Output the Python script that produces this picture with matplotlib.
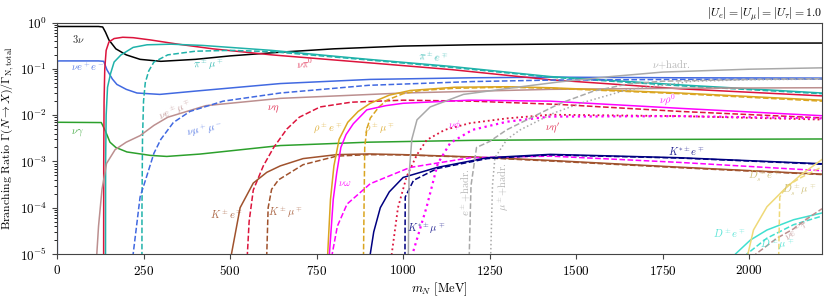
import numpy as np
import matplotlib
matplotlib.use("Agg")
from matplotlib import pyplot as plt

# Branching ratios of a heavy neutral lepton N
# (m_N in MeV, BR dimensionless)

m_3nu = [0, 1, 5, 120, 132, 140, 150, 170, 200, 240, 300, 400, 500, 650, 800, 1000, 1200, 1500, 1800, 2210]
br_3nu = [1.0, 0.85, 0.82, 0.82, 0.80, 0.62, 0.42, 0.27, 0.2, 0.16, 0.145, 0.16, 0.19, 0.23, 0.27, 0.31, 0.33, 0.345, 0.355, 0.36]

m_nuee = [1.0, 1.05, 1.2, 5, 120, 135, 144, 160, 173, 200, 231, 297, 400, 645, 905, 1200, 1425, 1800, 2210]
br_nuee = [1e-6, 0.05, 0.145, 0.148, 0.148, 0.145, 0.096, 0.06, 0.046, 0.036, 0.030, 0.028, 0.033, 0.048, 0.059, 0.064, 0.066, 0.064, 0.063]

m_nugamma = [0, 128, 140, 153, 170, 202, 269, 317, 413, 645, 900, 1200, 1500, 2210]
br_nugamma = [7e-3, 6.9e-3, 4.5e-3, 2.6e-3, 2.0e-3, 1.6e-3, 1.35e-3, 1.28e-3, 1.44e-3, 2.2e-3, 2.6e-3, 2.85e-3, 2.95e-3, 3.05e-3]

m_nupi0 = [134.5, 135, 136, 138, 142, 150, 165, 190, 220, 270, 350, 450, 620, 900, 1140, 1425, 1800, 2210]
br_nupi0 = [1e-7, 1e-3, 0.02, 0.1, 0.25, 0.38, 0.45, 0.48, 0.47, 0.42, 0.34, 0.27, 0.20, 0.135, 0.096, 0.058, 0.037, 0.026]

m_pie = [139.8, 140.5, 142, 146, 155, 165, 185, 220, 260, 330, 420, 620, 900, 1136, 1425, 1800, 2210]
br_pie = [1e-7, 1e-3, 0.01, 0.04, 0.08, 0.14, 0.2, 0.29, 0.33, 0.34, 0.32, 0.25, 0.16, 0.113, 0.068, 0.045, 0.030]

m_pimu = [245.2, 245.5, 247, 250, 255, 265, 280, 320, 400, 500, 620, 900, 1136, 1425, 1800, 2210]
br_pimu = [1e-7, 1e-4, 3e-3, 0.02, 0.05, 0.09, 0.14, 0.2, 0.24, 0.25, 0.235, 0.155, 0.108, 0.066, 0.043, 0.029]

m_nuemu = [110, 115, 120, 130, 143, 168, 200, 240, 280, 320, 430, 645, 1000, 1425, 1800, 2210]
br_nuemu = [1e-7, 1e-5, 4e-5, 2.5e-4, 9e-4, 1.8e-3, 2.6e-3, 3.6e-3, 6e-3, 9e-3, 0.016, 0.023, 0.030, 0.036, 0.038, 0.039]

m_numumu = [211.5, 215, 220, 240, 260, 280, 300, 336, 384, 480, 645, 900, 1200, 1425, 1800, 2210]
br_numumu = [1e-8, 1e-6, 1e-5, 1.7e-4, 5e-4, 1.5e-3, 3e-3, 6.9e-3, 0.012, 0.020, 0.030, 0.044, 0.053, 0.057, 0.059, 0.060]

m_nueta = [548, 550, 555, 567, 596, 626, 664, 700, 760, 850, 1000, 1200, 1450, 1800, 2210]
br_nueta = [1e-7, 1e-5, 5e-5, 2.4e-4, 8e-4, 2e-3, 5e-3, 9e-3, 0.015, 0.019, 0.021, 0.020, 0.017, 0.012, 8.7e-3]

m_ke = [494.5, 500, 504, 529, 567, 606, 645, 711, 808, 900, 1000, 1200, 1425, 1800, 2210]
br_ke = [1e-7, 2e-6, 1e-5, 1e-4, 3.4e-4, 5.8e-4, 8e-4, 1.15e-3, 1.4e-3, 1.45e-3, 1.4e-3, 1.25e-3, 1.05e-3, 7.5e-4, 5.3e-4]

m_kmu = [599.5, 603, 606, 610, 620, 640, 711, 808, 900, 1000, 1200, 1425, 1800, 2210]
br_kmu = [1e-7, 3e-6, 1e-5, 1e-4, 2.5e-4, 4e-4, 8.5e-4, 1.3e-3, 1.4e-3, 1.38e-3, 1.23e-3, 1.02e-3, 7.3e-4, 5.2e-4]

m_rhoe = [776, 779, 782, 790, 800, 815, 840, 870, 905, 960, 1020, 1150, 1300, 1425, 1800, 2210]
br_rhoe = [1e-7, 2e-6, 1e-5, 1.5e-4, 8e-4, 3e-3, 7e-3, 0.012, 0.018, 0.027, 0.034, 0.040, 0.041, 0.039, 0.030, 0.021]

m_rhomu = [881.5, 884, 887, 889, 895, 905, 930, 953, 1000, 1050, 1150, 1300, 1425, 1800, 2210]
br_rhomu = [1e-7, 1e-6, 1e-4, 2e-3, 5e-3, 8.6e-3, 0.015, 0.021, 0.029, 0.034, 0.038, 0.040, 0.038, 0.029, 0.020]

m_nurho = [783, 787, 798, 808, 820, 835, 856, 895, 950, 1000, 1190, 1425, 1800, 2210]
br_nurho = [1e-7, 1e-5, 1.5e-4, 5.6e-4, 2e-3, 3.8e-3, 6.5e-3, 0.013, 0.016, 0.018, 0.021, 0.020, 0.014, 9.7e-3]

m_nuomega = [785, 790, 795, 810, 838, 905, 1020, 1194, 1425, 1800, 2210]
br_nuomega = [1e-7, 1e-6, 1e-5, 4e-5, 1.2e-4, 3.3e-4, 7.4e-4, 1.2e-3, 1.3e-3, 9.5e-4, 6.3e-4]

m_kste = [895, 905, 915, 934, 960, 1000, 1098, 1243, 1425, 1800, 2210]
br_kste = [1e-7, 1e-5, 3e-5, 1e-4, 2.2e-4, 4.5e-4, 7.4e-4, 1.2e-3, 1.42e-3, 1.2e-3, 8.9e-4]

m_kstmu = [1004, 1006, 1030, 1098, 1243, 1425, 1800, 2210]
br_kstmu = [1e-7, 1.7e-4, 3.9e-4, 7e-4, 1.15e-3, 1.38e-3, 1.18e-3, 8.7e-4]

m_nuetap = [958, 967, 985, 1010, 1040, 1068, 1120, 1193, 1300, 1425, 1800, 2210]
br_nuetap = [1e-7, 1e-5, 1e-4, 4.7e-4, 1.4e-3, 2.9e-3, 4.8e-3, 6.7e-3, 8.5e-3, 0.0102, 9.5e-3, 8e-3]

m_nuphi = [1020, 1027, 1068, 1100, 1136, 1200, 1300, 1425, 1800, 2210]
br_nuphi = [1e-7, 1e-5, 1.05e-4, 9e-4, 2.5e-3, 4.8e-3, 7.2e-3, 9.3e-3, 9.5e-3, 8.5e-3]

m_nuhad = [1012, 1015, 1017, 1025, 1040, 1078, 1174, 1318, 1450, 1600, 1750, 2000, 2210]
br_nuhad = [1e-7, 1e-5, 5e-4, 3e-3, 7.9e-3, 0.015, 0.028, 0.039, 0.052, 0.068, 0.085, 0.098, 0.105]

m_ehad = [1188, 1191, 1196, 1212, 1250, 1299, 1396, 1454, 1550, 1650, 1750, 2000, 2210]
br_ehad = [1e-7, 1e-5, 3e-4, 2e-3, 2.7e-3, 4.8e-3, 0.011, 0.018, 0.033, 0.047, 0.054, 0.059, 0.061]

m_muhad = [1250, 1253, 1258, 1265, 1300, 1338, 1434, 1512, 1646, 1838, 2000, 2210]
br_muhad = [1e-7, 1e-5, 3e-4, 1.2e-3, 3e-3, 4.8e-3, 0.011, 0.018, 0.035, 0.054, 0.058, 0.060]

m_de = [1871, 1900, 1940, 1960, 2003, 2051, 2128, 2210]
br_de = [1e-8, 1e-6, 5e-6, 1e-5, 2e-5, 3.3e-5, 5.5e-5, 7.7e-5]

m_dmu = [1976, 1985, 1993, 2051, 2128, 2210]
br_dmu = [1e-8, 5e-6, 1e-5, 2.2e-5, 4.3e-5, 6.6e-5]

m_nuetau = [1778, 1900, 1980, 2019, 2080, 2128, 2170, 2210]
br_nuetau = [1e-9, 5e-7, 4e-6, 1e-5, 2.2e-5, 3.5e-5, 6e-5, 9.5e-5]

m_dse = [1969, 1985, 1996, 2012, 2051, 2099, 2147, 2210]
br_dse = [1e-8, 1e-6, 1e-5, 3.3e-5, 1.05e-4, 2.4e-4, 5e-4, 1.1e-3]

m_dsmu = [2084, 2085, 2088, 2107, 2150, 2210]
br_dsmu = [1e-8, 1e-5, 1.7e-4, 2.9e-4, 4.5e-4, 7.6e-4]

# (m, br, colour, linestyle, linewidth)
curves = [
    (m_3nu, br_3nu, "black", "-", 1.1),
    (m_nuee, br_nuee, "royalblue", "-", 1.1),
    (m_nugamma, br_nugamma, "#2ca02c", "-", 1.1),
    (m_nupi0, br_nupi0, "crimson", "-", 1.1),
    (m_pie, br_pie, "lightseagreen", "-", 1.1),
    (m_pimu, br_pimu, "lightseagreen", "--", 1.1),
    (m_nuemu, br_nuemu, "rosybrown", "-", 1.1),
    (m_numumu, br_numumu, "royalblue", "--", 1.1),
    (m_nueta, br_nueta, "crimson", "--", 1.1),
    (m_ke, br_ke, "sienna", "-", 1.1),
    (m_kmu, br_kmu, "sienna", "--", 1.1),
    (m_rhoe, br_rhoe, "goldenrod", "-", 1.1),
    (m_rhomu, br_rhomu, "goldenrod", "--", 1.1),
    (m_nurho, br_nurho, "magenta", "-", 1.1),
    (m_nuomega, br_nuomega, "magenta", "--", 1.1),
    (m_kste, br_kste, "navy", "-", 1.1),
    (m_kstmu, br_kstmu, "navy", "--", 1.1),
    (m_nuetap, br_nuetap, "crimson", ":", 1.3),
    (m_nuphi, br_nuphi, "magenta", ":", 1.6),
    (m_nuhad, br_nuhad, "darkgray", "-", 1.1),
    (m_ehad, br_ehad, "darkgray", "--", 1.1),
    (m_muhad, br_muhad, "darkgray", ":", 1.1),
    (m_de, br_de, "turquoise", "-", 1.1),
    (m_dmu, br_dmu, "turquoise", "--", 1.1),
    (m_nuetau, br_nuetau, "rosybrown", "--", 1.1),
    (m_dse, br_dse, "#efd978", "-", 1.1),
    (m_dsmu, br_dsmu, "#efd978", "--", 1.1),
]

# curve labels: (text, m, br, colour, rotation)
labels = [
    (r"$3\nu$", 61, 0.45, "black", 0),
    (r"$\nu e^+e^-$", 88, 0.11, "royalblue", 0),
    (r"$\nu\gamma$", 59, 4.2e-3, "#2ca02c", 0),
    (r"$\nu\pi^0$", 716, 0.128, "crimson", 5),
    (r"$\pi^\pm e^\mp$", 1086, 0.18, "lightseagreen", -5),
    (r"$\pi^\pm\mu^\mp$", 437, 0.123, "lightseagreen", 0),
    (r"$\nu e^\pm\mu^\mp$", 341, 0.013, "rosybrown", 22),
    (r"$\nu\mu^+\mu^-$", 427, 4.8e-3, "royalblue", 10),
    (r"$\nu\eta$", 624, 0.013, "crimson", 0),
    (r"$K^\pm e^\mp$", 490, 7.4e-5, "sienna", 0),
    (r"$K^\pm\mu^\mp$", 660, 8.0e-5, "sienna", 0),
    (r"$\rho^\pm e^\mp$", 783, 5.3e-3, "goldenrod", 0),
    (r"$\rho^\pm\mu^\mp$", 932, 5.3e-3, "goldenrod", 0),
    (r"$\nu\rho^0$", 1764, 0.0215, "magenta", 0),
    (r"$\nu\omega$", 831, 3.4e-4, "magenta", 0),
    (r"$K^{*\pm}e^\mp$", 1817, 1.7e-3, "navy", 0),
    (r"$K^{*\pm}\mu^\mp$", 1067, 3.6e-5, "navy", 0),
    (r"$\nu\phi$", 1149, 6.2e-3, "magenta", 0),
    (r"$\nu\eta'$", 1432, 5.3e-3, "crimson", 0),
    (r"$\nu$+hadr.", 1774, 0.123, "darkgray", 0),
    (r"$e^\pm$+hadr.", 1182, 2.2e-4, "darkgray", 90),
    (r"$\mu^\pm$+hadr.", 1288, 2.9e-4, "darkgray", 90),
    (r"$D^\pm e^\mp$", 1942, 2.8e-5, "turquoise", 0),
    (r"$D^\pm\mu^\mp$", 2082, 1.6e-5, "turquoise", 0),
    (r"$\nu e^\pm\tau^\mp$", 2144, 3.6e-5, "rosybrown", 35),
    (r"$D_s^\pm e^\mp$", 2043, 4.9e-4, "#c9b96a", 0),
    (r"$D_s^\pm\mu^\mp$", 2144, 2.4e-4, "#c9b96a", 0),
]

plt.rcParams["mathtext.fontset"] = "cm"
plt.rcParams["font.family"] = "serif"
plt.rcParams["font.serif"] = ["cmr10", "DejaVu Serif"]
plt.rcParams["axes.formatter.use_mathtext"] = True

fig = plt.figure(figsize=(8.3, 2.97), dpi=100)
ax = fig.add_axes([57 / 830, 43 / 297, 765 / 830, 231.5 / 297])

for m, br, col, ls, lw in curves:
    ax.plot(m, br, color=col, linestyle=ls, linewidth=lw)

for txt, m, br, col, rot in labels:
    ax.text(m, br, txt, color=col, fontsize=7.5, rotation=rot, alpha=0.85,
            ha="center", va="center")

ax.set_yscale("log")
ax.set_xlim(0, 2210)
ax.set_ylim(1e-5, 1.0)
ax.set_xticks([0, 250, 500, 750, 1000, 1250, 1500, 1750, 2000])
ax.tick_params(labelsize=9.5, color="#444444")
for sp in ax.spines.values():
    sp.set_color("#444444")

ax.set_xlabel(r"$m_N$ [MeV]", fontsize=9, labelpad=2)
ax.set_ylabel(r"Branching Ratio $\Gamma(N\rightarrow X)/\Gamma_{\rm N,total}$", fontsize=8.5, labelpad=3)
ax.set_title(r"$|U_e|=|U_\mu|=|U_\tau|=1.0$", loc="right", fontsize=8.5, pad=3)

fig.savefig("out.png", dpi=100)
